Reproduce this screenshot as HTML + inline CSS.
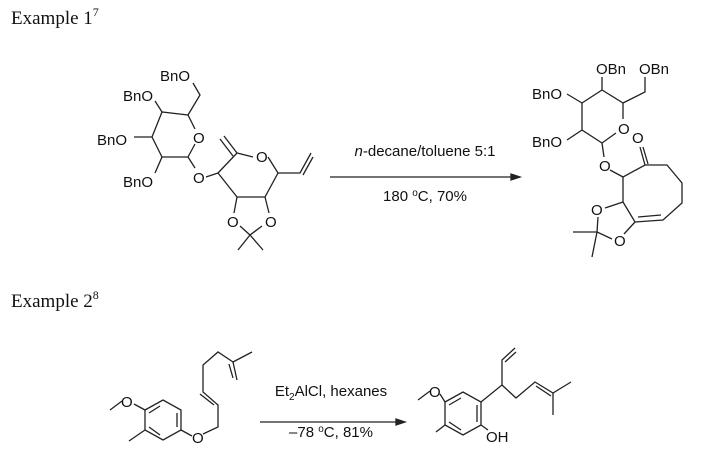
<!DOCTYPE html>
<html><head><meta charset="utf-8"><style>
html,body{margin:0;padding:0;background:#fff}
svg{display:block}
.t{font-family:"Liberation Sans",sans-serif;font-size:15px;fill:#111}
.s{font-family:"Liberation Serif",serif;font-size:19px;fill:#111}
line,polyline,polygon{stroke:#222;stroke-width:1.3;fill:none}
</style></head><body>
<svg width="708" height="467" viewBox="0 0 708 467">
<text class="s" x="11" y="24">Example 1<tspan font-size="12" dy="-8">7</tspan></text>
<text class="s" x="11" y="307">Example 2<tspan font-size="12" dy="-8">8</tspan></text>

<!-- SM1 sugar -->
<text class="t" x="160" y="81">BnO</text>
<text class="t" x="123" y="101">BnO</text>
<text class="t" x="97" y="145">BnO</text>
<text class="t" x="123" y="187">BnO</text>
<text class="t" x="193" y="143">O</text>
<text class="t" x="193" y="183">O</text>
<polyline points="193,83 200,95 188,115"/>
<polyline points="188,115 162,112 152,137 162,157 188,157"/>
<line x1="188" y1="115" x2="195" y2="129"/>
<line x1="188" y1="157" x2="195" y2="144"/>
<line x1="162" y1="112" x2="155" y2="101"/>
<line x1="152" y1="137" x2="134" y2="137"/>
<line x1="162" y1="157" x2="155" y2="173"/>
<line x1="188" y1="157" x2="195" y2="168"/>
<line x1="206" y1="177" x2="218" y2="173"/>
<text class="t" x="256" y="162">O</text>
<polyline points="218,173 237,153 253,157"/>
<polyline points="268,157 278,173 265,197 237,197 218,173"/>
<line x1="237" y1="153" x2="224" y2="136"/><line x1="233" y1="156" x2="220" y2="139"/>
<polyline points="278,173 300,173 311,153"/><line x1="303" y1="175" x2="313" y2="157"/>
<text class="t" x="227" y="227">O</text><text class="t" x="265" y="227">O</text>
<line x1="237" y1="197" x2="234" y2="213"/><line x1="265" y1="197" x2="269" y2="213"/>
<polyline points="240,226 250,235 262,226"/>
<line x1="250" y1="235" x2="238" y2="250"/><line x1="250" y1="235" x2="263" y2="250"/>

<!-- arrow 1 -->
<line x1="330" y1="177" x2="515" y2="177"/>
<polygon points="520,177 511,174 511,180" style="fill:#222"/>
<text class="t" x="425" y="156" text-anchor="middle"><tspan font-style="italic">n</tspan>-decane/toluene 5:1</text>
<text class="t" x="425" y="201" text-anchor="middle">180 <tspan font-size="10" dy="-5">o</tspan><tspan dy="5">C, 70%</tspan></text>

<!-- product 1 -->
<text class="t" x="596" y="74">OBn</text>
<text class="t" x="639" y="74">OBn</text>
<text class="t" x="532" y="99">BnO</text>
<text class="t" x="532" y="147">BnO</text>
<text class="t" x="618" y="134">O</text>
<text class="t" x="599" y="171">O</text>
<text class="t" x="632" y="143">O</text>
<line x1="602" y1="90" x2="602" y2="77"/>
<polyline points="582,103 602,90 623,103 623,119"/>
<polyline points="582,103 582,130 602,143 616,133"/>
<polyline points="623,103 645,92 645,77"/>
<line x1="582" y1="103" x2="567" y2="94"/>
<line x1="582" y1="130" x2="567" y2="140"/>
<line x1="602" y1="143" x2="604" y2="157"/>
<line x1="610" y1="170" x2="623" y2="177"/>
<polyline points="623,202 623,177 645,165 667,165 682,183 682,203 663,220 635,222 623,202"/>
<line x1="645" y1="165" x2="640" y2="147"/><line x1="648" y1="164" x2="643" y2="147"/>
<line x1="661" y1="215" x2="638" y2="217"/>
<text class="t" x="591" y="215">O</text><text class="t" x="614" y="246">O</text>
<line x1="623" y1="202" x2="605" y2="208"/><line x1="635" y1="222" x2="624" y2="234"/>
<polyline points="598,217 597,232 612,239"/>
<line x1="597" y1="232" x2="573" y2="232"/><line x1="597" y1="232" x2="592" y2="257"/>

<!-- SM2 -->
<text class="t" x="121" y="407">O</text>
<line x1="122" y1="401" x2="110" y2="410"/>
<polygon points="145,410 163,400 181,410 181,430 163,440 145,430"/>
<line x1="149" y1="413" x2="160" y2="406"/><line x1="177" y1="413" x2="177" y2="427"/><line x1="149" y1="427" x2="160" y2="435"/>
<line x1="134" y1="404" x2="145" y2="410"/>
<line x1="145" y1="430" x2="129" y2="441"/>
<text class="t" x="192" y="443">O</text>
<line x1="181" y1="430" x2="192" y2="436"/>
<polyline points="203,434 218,427 218,405 203,392 203,365 218,352 233,362"/>
<line x1="214" y1="405" x2="200" y2="394"/>
<line x1="233" y1="362" x2="252" y2="352"/><line x1="233" y1="362" x2="237" y2="380"/>
<line x1="229" y1="364" x2="233" y2="378"/>

<!-- arrow 2 -->
<line x1="260" y1="422" x2="400" y2="422"/>
<polygon points="405,422 396,419 396,425" style="fill:#222"/>
<text class="t" x="331" y="396" text-anchor="middle">Et<tspan font-size="10" dy="4">2</tspan><tspan dy="-4">AlCl, hexanes</tspan></text>
<text class="t" x="331" y="437" text-anchor="middle">–78 <tspan font-size="10" dy="-5">o</tspan><tspan dy="5">C, 81%</tspan></text>

<!-- product 2 -->
<text class="t" x="429" y="397">O</text>
<line x1="430" y1="391" x2="418" y2="400"/>
<polygon points="445,402 463,392 481,402 481,425 463,435 445,425"/>
<line x1="449" y1="405" x2="461" y2="398"/><line x1="477" y1="405" x2="477" y2="422"/><line x1="449" y1="422" x2="461" y2="430"/>
<line x1="440" y1="394" x2="445" y2="402"/>
<line x1="445" y1="425" x2="436" y2="432"/>
<text class="t" x="486" y="442">OH</text>
<line x1="481" y1="425" x2="488" y2="430"/>
<polyline points="481,402 502,385 502,360 515,348"/>
<line x1="505" y1="362" x2="516" y2="352"/>
<polyline points="502,385 516,398 535,382 553,393 571,382"/>
<line x1="536" y1="386" x2="551" y2="396"/>
<line x1="553" y1="393" x2="553" y2="415"/>
</svg>
</body></html>
